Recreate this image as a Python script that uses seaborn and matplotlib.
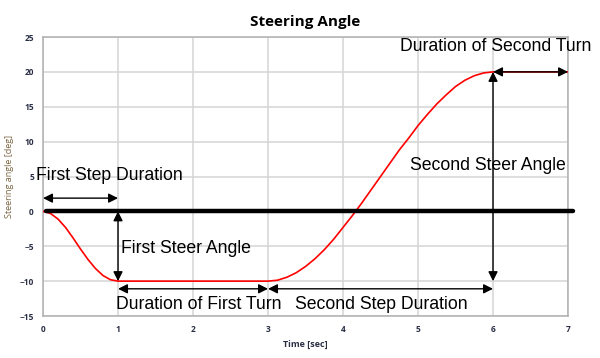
import seaborn as sns
import matplotlib.pyplot as plt
import pandas as pd

# -- DATA -- #
time_sec = [0.0, 0.1, 0.2, 0.3, 0.4, 0.5, 0.6, 0.7, 0.8, 0.9, 1.0,
            2.0, 3.0, 3.125, 3.25, 3.375, 3.5, 3.625, 3.75, 3.875, 4.0,
            4.125, 4.25, 4.375, 4.5, 4.625, 4.75, 4.875, 5.0, 5.125, 5.25,
            5.375, 5.5, 5.625, 5.75, 5.875, 6.0, 7.0]
steer_deg = [0.0, -0.3, -1.1, -2.3, -3.8, -5.4, -6.9, -8.2, -9.2, -9.8, -10.0,
             -10.0, -10.0, -9.87, -9.45, -8.8, -7.9, -6.8, -5.5, -4.0, -2.3,
             -0.6, 1.2, 3.1, 5.0, 6.9, 8.8, 10.5, 12.3, 13.9, 15.4,
             16.7, 17.9, 18.8, 19.45, 19.85, 20.0, 20.0]

# key points of the manoeuvre
step_times = [0, 1, 3, 6, 7]
step_angles = [0, -10, -10, 20, 20]

x_ticks = [0, 1, 2, 3, 4, 5, 6, 7]
y_ticks = [-15, -10, -5, 0, 5, 10, 15, 20, 25]

df = pd.DataFrame({'time': time_sec, 'angle': steer_deg})

# -- VISUALIZATION -- #
sns.set_style('white')
plt.rcParams['font.family'] = ['Liberation Sans', 'DejaVu Sans']
plt.rcParams['text.color'] = 'black'

fig = plt.figure(figsize=(6.0, 3.58), dpi=100)
ax = fig.add_axes([0.0717, 0.1173, 0.875, 0.7793])

sns.lineplot(data=df, x='time', y='angle', color='red', linewidth=1.2, ax=ax, zorder=3)

ax.axhline(0, xmin=0.006, xmax=1.01, color='black', linewidth=3.2, zorder=4, clip_on=False)

ax.set_xlim(0, 7)
ax.set_ylim(-15, 25)
ax.set_xticks(x_ticks)
ax.set_yticks(y_ticks)
ax.grid(True, color='#d4d4d4', linewidth=1.1)
for s in ax.spines.values():
    s.set_color('#b0b0b0')
    s.set_linewidth(1.1)
ax.tick_params(axis='both', length=3.5, width=1.0, color='#c0c0c0',
               labelsize=6, labelcolor='#2a2f45', pad=3)
for lbl in ax.get_xticklabels() + ax.get_yticklabels():
    lbl.set_fontweight('bold')
    lbl.set_family(['Open Sans', 'DejaVu Sans'])

ax.set_xlabel('Time [sec]', fontsize=6.5, color='#2a2f45', fontweight='bold',
              family=['Open Sans', 'DejaVu Sans'], labelpad=4)
ax.set_ylabel('Steering angle [deg]', fontsize=6.5, color='#7a6440',
              family=['Open Sans', 'DejaVu Sans'], labelpad=4)
ax.set_title('Steering Angle', fontsize=11, fontweight='bold', color='black',
             family=['Open Sans', 'DejaVu Sans'], pad=8)

arrow = dict(arrowstyle='<|-|>', color='black', lw=1.0, mutation_scale=14,
             shrinkA=0, shrinkB=0)

def double_arrow(p0, p1):
    ax.annotate('', xy=p1, xytext=p0, arrowprops=arrow, zorder=5,
                annotation_clip=False)

fs = 12.7

# first step duration
double_arrow((step_times[0], 1.9), (step_times[1], 1.9))
ax.text(-0.1, 5.2, 'First Step Duration', fontsize=fs, va='center', ha='left')

# first steer angle
double_arrow((step_times[1], step_angles[0]), (step_times[1], step_angles[1]))
ax.text(1.04, -5.3, 'First Steer Angle', fontsize=fs, va='center', ha='left')

# duration of first turn / second step duration
double_arrow((step_times[1], -11.1), (step_times[2], -11.1))
double_arrow((step_times[2], -11.1), (step_times[3], -11.1))
ax.text(0.97, -13.3, 'Duration of First Turn', fontsize=fs, va='center', ha='left')
ax.text(3.36, -13.3, 'Second Step Duration', fontsize=fs, va='center', ha='left')

# second steer angle
double_arrow((step_times[3], step_angles[3]), (step_times[3], step_angles[2]))
ax.text(4.89, 6.6, 'Second Steer Angle', fontsize=fs, va='center', ha='left')

# duration of second turn
double_arrow((step_times[3], step_angles[3]), (step_times[4], step_angles[4]))
ax.text(4.76, 23.6, 'Duration of Second Turn', fontsize=fs, va='center', ha='left')

plt.savefig('out.png', dpi=100)
